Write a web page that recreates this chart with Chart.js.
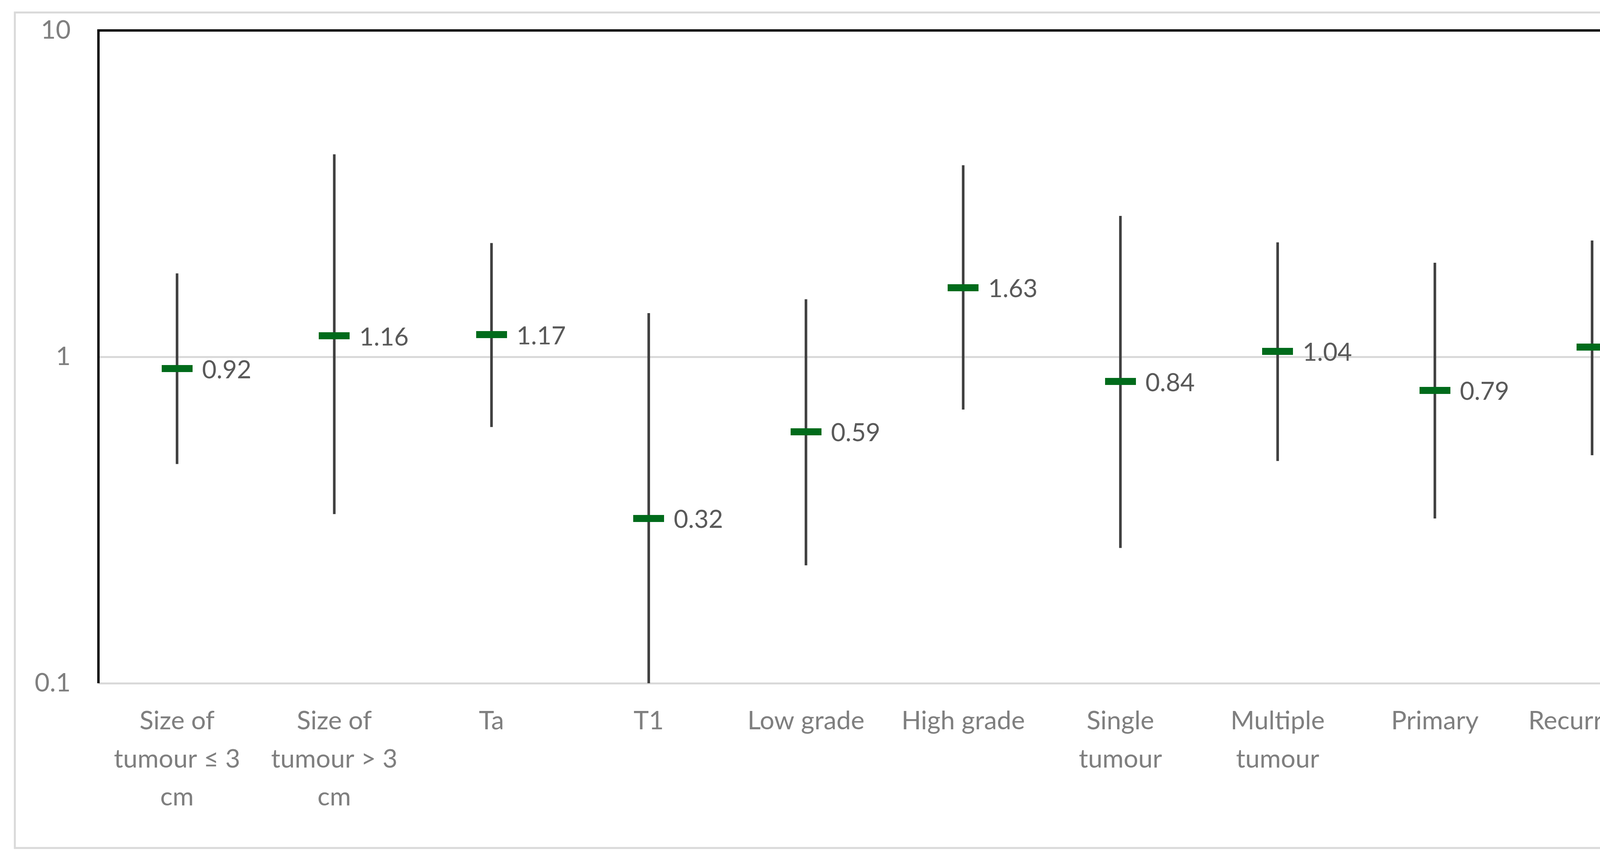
<!DOCTYPE html>
<html>
<head>
<meta charset="utf-8">
<script src="https://cdn.jsdelivr.net/npm/chart.js@4.4.1/dist/chart.umd.min.js"></script>
<style>
  body { margin: 0; background: #fff; overflow: hidden; }
  canvas { display: block; }
</style>
</head>
<body>
<canvas id="oddsgraf" width="4443" height="2213"></canvas>
<script>
const categorias = [
  ["Size of", "tumour ≤ 3", "cm"],
  ["Size of", "tumour > 3", "cm"],
  "Ta",
  "T1",
  "Low grade",
  "High grade",
  ["Single", "tumour"],
  ["Multiple", "tumour"],
  "Primary",
  "Recurrence"
];
const valores = [0.92, 1.16, 1.17, 0.32, 0.59, 1.63, 0.84, 1.04, 0.79, 1.07];
const inferior = [0.47, 0.33, 0.61, 0.10, 0.23, 0.69, 0.26, 0.48, 0.32, 0.50];
const superior = [1.80, 4.17, 2.23, 1.36, 1.50, 3.86, 2.70, 2.24, 1.94, 2.27];
const marcasY = [0.1, 1, 10];

const intervalos = inferior.map((v, i) => [v, superior[i]]);

// marcador verde (rectangulo)
const marca = document.createElement('canvas');
marca.width = 79;
marca.height = 18;
const mctx = marca.getContext('2d');
mctx.fillStyle = '#006b1b';
mctx.fillRect(0, 0, 79, 18);

const marco = {
  id: 'marco',
  beforeDraw(chart) {
    const ctx = chart.ctx;
    ctx.save();
    ctx.fillStyle = '#fff';
    ctx.fillRect(0, 0, chart.width, chart.height);
    ctx.strokeStyle = '#d9d9d9';
    ctx.lineWidth = 5;
    ctx.strokeRect(38, 32, 4361, 2140);
    ctx.restore();
  },
  beforeDatasetsDraw(chart) {
    const ctx = chart.ctx;
    const a = chart.chartArea;
    ctx.save();
    ctx.strokeStyle = '#000';
    ctx.lineWidth = 6;
    ctx.beginPath();
    ctx.moveTo(a.left, a.bottom);
    ctx.lineTo(a.left, a.top);
    ctx.lineTo(a.right, a.top);
    ctx.lineTo(a.right, a.bottom);
    ctx.stroke();
    ctx.restore();
  }
};

const etiquetas = {
  id: 'etiquetas',
  afterDatasetsDraw(chart) {
    const ctx = chart.ctx;
    const meta = chart.getDatasetMeta(1);
    ctx.save();
    ctx.font = '64px Lato';
    ctx.fillStyle = '#595959';
    ctx.textAlign = 'left';
    ctx.textBaseline = 'middle';
    meta.data.forEach((p, i) => {
      ctx.fillText(valores[i].toFixed(2), p.x + 64, p.y + 4);
    });
    ctx.restore();
  }
};

new Chart('oddsgraf', {
  type: 'bar',
  data: {
    labels: categorias,
    datasets: [{
      label: 'IC 95%',
      data: intervalos,
      backgroundColor: '#404040',
      barThickness: 6,
      order: 1
    }, {
      type: 'line',
      label: 'OR',
      data: valores,
      showLine: false,
      pointStyle: marca,
      pointRadius: 10,
      order: 0
    }]
  },
  options: {
    responsive: false,
    devicePixelRatio: 1,
    animation: false,
    layout: { padding: { left: 0, top: 78, right: 166, bottom: 0 } },
    plugins: {
      legend: { display: false },
      tooltip: { enabled: false }
    },
    scales: {
      x: {
        grid: { display: false },
        border: { display: false },
        ticks: {
          color: '#7f7f7f',
          font: { family: 'Lato', size: 66, lineHeight: 1.48 },
          padding: 40,
          maxRotation: 0,
          autoSkip: false
        },
        afterFit(scale) {
          scale.height = 463;
          scale.paddingLeft = 0;
          scale.paddingRight = 0;
        }
      },
      y: {
        type: 'logarithmic',
        min: 0.1,
        max: 10,
        grid: { color: '#d9d9d9', lineWidth: 5, drawTicks: false },
        border: { display: false },
        ticks: {
          color: '#7f7f7f',
          font: { family: 'Lato', size: 66 },
          padding: 71,
          callback: (v) => String(v)
        },
        afterBuildTicks(scale) {
          scale.ticks = marcasY.map(v => ({ value: v }));
        },
        afterFit(scale) {
          scale.width = 252;
          scale.paddingTop = 0;
          scale.paddingBottom = 0;
        }
      }
    }
  },
  plugins: [marco, etiquetas]
});
</script>
</body>
</html>
